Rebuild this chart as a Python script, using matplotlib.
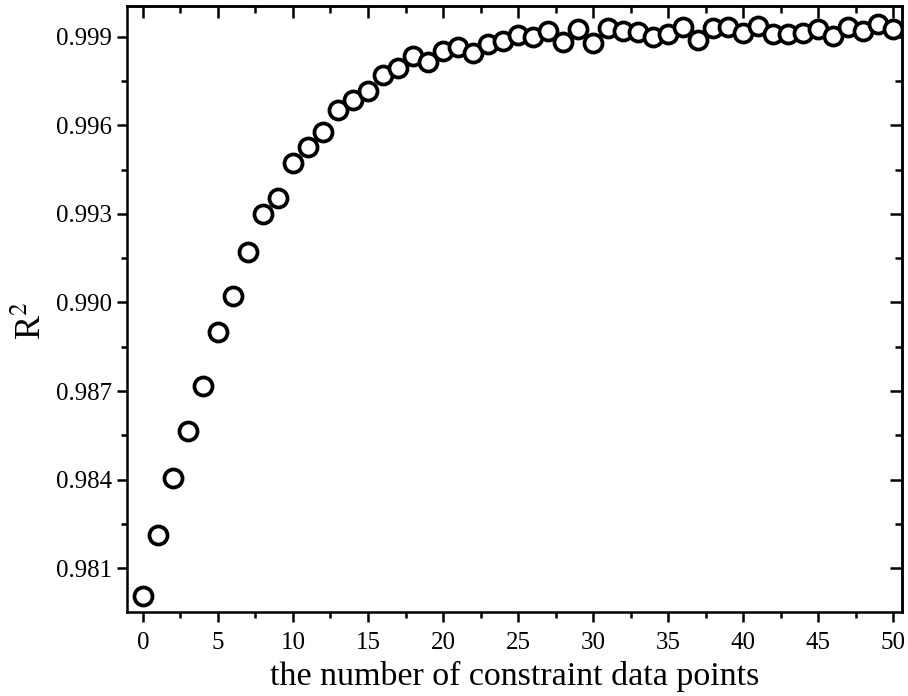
import numpy as np
import matplotlib
matplotlib.use('Agg')
import matplotlib.pyplot as plt
from matplotlib.ticker import MultipleLocator, FormatStrFormatter

# number of constraint data points and the R^2
n_points = list(range(51))
r2 = [0.98007, 0.98212, 0.98405, 0.98565, 0.98717, 0.98901, 0.99022, 0.99172,
      0.99300, 0.99353, 0.99473, 0.99528, 0.99578, 0.99652, 0.99686, 0.99716,
      0.99770, 0.99793, 0.99835, 0.99813, 0.99852, 0.99866, 0.99844, 0.99874,
      0.99886, 0.99906, 0.99898, 0.99919, 0.99883, 0.99925, 0.99878, 0.99928,
      0.99920, 0.99917, 0.99900, 0.99908, 0.99934, 0.99889, 0.99928, 0.99934,
      0.99911, 0.99936, 0.99908, 0.99908, 0.99911, 0.99925, 0.99902, 0.99934,
      0.99920, 0.99943, 0.99925]

plt.rcParams['font.family'] = ['Liberation Serif', 'DejaVu Serif']
plt.rcParams['mathtext.fontset'] = 'stix'

fig = plt.figure(figsize=(9.08, 6.96), dpi=100)
ax = fig.add_axes([0.1399, 0.1207, 0.8532, 0.8707])

ax.plot(n_points, r2, linestyle='none', marker='o', markersize=13,
        markerfacecolor='white', markeredgecolor='black', markeredgewidth=2.7)

ax.set_xlim(-1.05, 50.55)
ax.set_ylim(0.97952, 1.00004)
ax.xaxis.set_major_locator(MultipleLocator(5))
ax.xaxis.set_minor_locator(MultipleLocator(2.5))
ax.yaxis.set_major_locator(MultipleLocator(0.003))
ax.yaxis.set_minor_locator(MultipleLocator(0.0015))
ax.yaxis.set_major_formatter(FormatStrFormatter('%.3f'))

for s in ax.spines.values():
    s.set_linewidth(1.8)

ax.tick_params(which='both', width=1.8, labelsize=18, colors='black')
ax.tick_params(which='major', length=7.5)
ax.tick_params(which='minor', length=4.5)
ax.tick_params(axis='x', which='both', direction='out', top=False)
ax.tick_params(axis='y', which='both', direction='out', right=False)
ax.tick_params(axis='x', pad=7)

# mirrored ticks on top and right, pointing inward
ax_top = ax.secondary_xaxis('top')
ax_top.xaxis.set_major_locator(MultipleLocator(5))
ax_top.xaxis.set_minor_locator(MultipleLocator(2.5))
ax_top.tick_params(which='both', direction='in', width=1.8, labeltop=False)
ax_top.tick_params(which='major', length=8.5)
ax_top.tick_params(which='minor', length=5)
ax_top.spines['top'].set_linewidth(1.8)

ax_right = ax.secondary_yaxis('right')
ax_right.yaxis.set_major_locator(MultipleLocator(0.003))
ax_right.yaxis.set_minor_locator(MultipleLocator(0.0015))
ax_right.tick_params(which='both', direction='in', width=1.8, labelright=False)
ax_right.tick_params(which='major', length=8.5)
ax_right.tick_params(which='minor', length=5)
ax_right.spines['right'].set_linewidth(1.8)

ax.set_xlabel('the number of constraint data points', fontsize=24.5, labelpad=5)
ax.set_ylabel('R$^2$', fontsize=26, labelpad=5, y=0.48)

plt.savefig('out.png', dpi=100)
plt.close()
